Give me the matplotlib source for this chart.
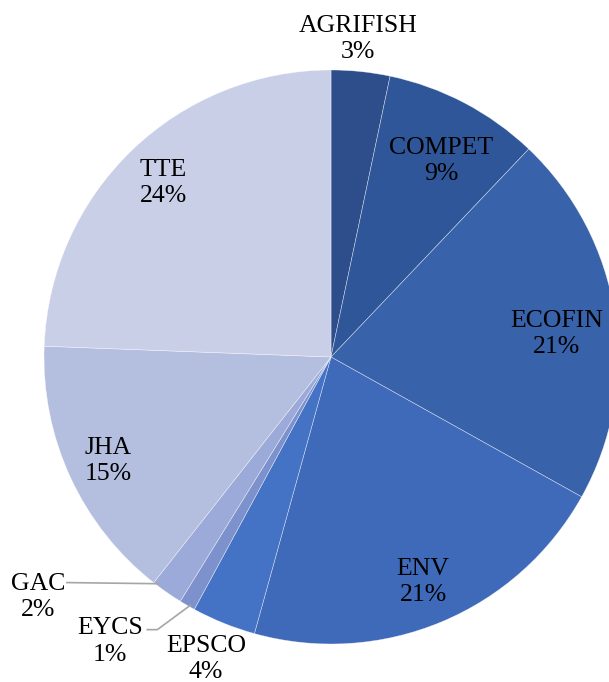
import matplotlib
matplotlib.use('Agg')
import matplotlib.pyplot as plt

# Shares (percent, clockwise from 12 o'clock)
councils = ['AGRIFISH', 'COMPET', 'ECOFIN', 'ENV', 'EPSCO', 'EYCS', 'GAC', 'JHA', 'TTE']
shares = [3.3, 8.8, 21.0, 21.2, 3.6, 0.9, 1.8, 15.0, 24.4]
colors = ['#2E4E8B', '#30569A', '#3862A9', '#3F6AB9', '#4472C4',
          '#7D91CD', '#9BAAD8', '#B4BEDF', '#CACFE8']

# label centres in pie units (radius = 1)
label_pos = [(0.094, 1.108), (0.383, 0.683), (0.787, 0.080), (0.321, -0.784),
             (-0.436, -1.052), (-0.770, -0.990), (-1.021, -0.836),
             (-0.777, -0.362), (-0.585, 0.606)]

plt.rcParams['font.family'] = ['Liberation Serif', 'DejaVu Serif']

fig = plt.figure(figsize=(6.09, 6.82), dpi=100)
ax = fig.add_axes([0, 0, 1, 1])

wedges, _ = ax.pie(shares, colors=colors, startangle=90, counterclock=False,
                   radius=1.0, center=(0, 0),
                   wedgeprops=dict(edgecolor=(1, 1, 1, 0.6), linewidth=0.4))

for name, val, (x, y) in zip(councils, shares, label_pos):
    ax.text(x, y, f'{name}\n{val:.0f}%', ha='center', va='center',
            fontsize=18.5, color='black', linespacing=1.28)

# leader lines for the two tiny slices
grey = '#A6A6A6'
ax.plot([-0.92, -0.6], [-0.786, -0.790], color=grey, lw=1.2)
ax.plot([-0.64, -0.605, -0.49], [-0.95, -0.95, -0.865], color=grey, lw=1.2)

ax.set_xlim(-331 / 287, (609 - 331) / 287)
ax.set_ylim((357 - 682) / 287, 357 / 287)
ax.set_aspect('auto')
ax.axis('off')

fig.savefig('out.png', dpi=100)
